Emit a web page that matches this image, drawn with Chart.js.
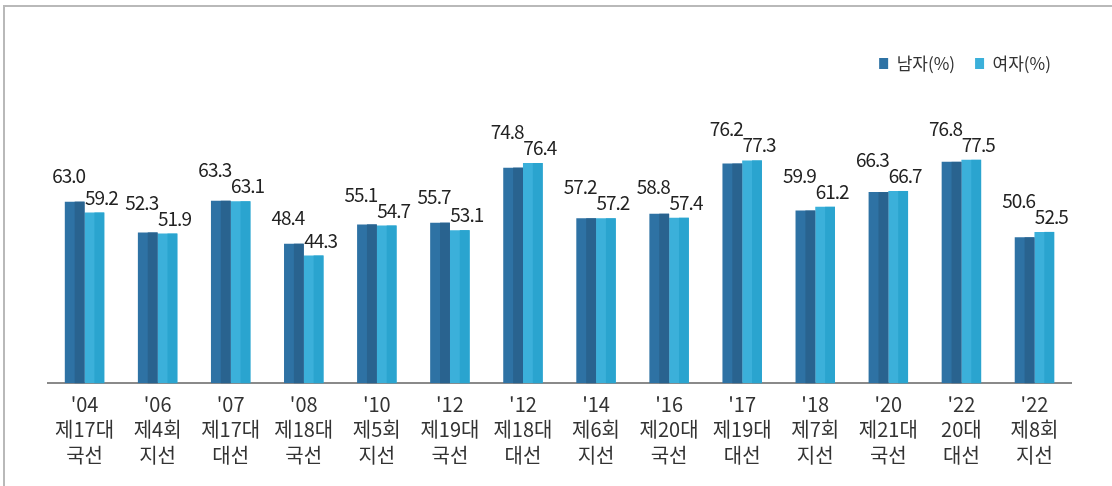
<!DOCTYPE html>
<html>
<head>
<meta charset="utf-8">
<script src="https://cdn.jsdelivr.net/npm/chart.js@4.4.1/dist/chart.umd.min.js"></script>
<style>
  html, body { margin: 0; padding: 0; background: #fff; }
  #wrap { position: relative; width: 1112px; height: 486px; overflow: hidden; }
  #frame { position: absolute; left: 3px; top: 5px; width: 1200px; height: 600px;
           border-top: 2px solid #b9b9b9; border-left: 2px solid #b9b9b9; pointer-events: none; }
  canvas { position: absolute; left: 0; top: 0; }
</style>
</head>
<body>
<div id="wrap">
  <canvas id="c" width="1112" height="486"></canvas>
  <div id="frame"></div>
</div>
<script>
const categories = [
  ["'04", "제17대", "국선"],
  ["'06", "제4회", "지선"],
  ["'07", "제17대", "대선"],
  ["'08", "제18대", "국선"],
  ["'10", "제5회", "지선"],
  ["'12", "제19대", "국선"],
  ["'12", "제18대", "대선"],
  ["'14", "제6회", "지선"],
  ["'16", "제20대", "국선"],
  ["'17", "제19대", "대선"],
  ["'18", "제7회", "지선"],
  ["'20", "제21대", "국선"],
  ["'22", "20대", "대선"],
  ["'22", "제8회", "지선"]
];
const seriesNames = ["남자(%)", "여자(%)"];
const maleValues = [63.0, 52.3, 63.3, 48.4, 55.1, 55.7, 74.8, 57.2, 58.8, 76.2, 59.9, 66.3, 76.8, 50.6];
const femaleValues = [59.2, 51.9, 63.1, 44.3, 54.7, 53.1, 76.4, 57.2, 57.4, 77.3, 61.2, 66.7, 77.5, 52.5];

const FONT = "'Noto Sans CJK KR', 'Noto Sans', sans-serif";
const lightColors = ["#2e72a4", "#3bb0da"];
const darkColors = ["#29638f", "#2aa4cf"];

const legendGap = {
  id: 'legendGap',
  beforeInit(chart) {
    const origFit = chart.legend.fit;
    chart.legend.fit = function () {
      origFit.bind(chart.legend)();
      this.height += 13;
    };
  }
};

const barShade = {
  id: 'barShade',
  afterDatasetsDraw(chart) {
    const ctx = chart.ctx;
    ctx.save();
    chart.data.datasets.forEach((ds, di) => {
      const meta = chart.getDatasetMeta(di);
      meta.data.forEach(el => {
        ctx.fillStyle = darkColors[di];
        ctx.fillRect(el.x, el.y, el.width / 2, el.base - el.y);
      });
    });
    ctx.restore();
  }
};

const valueLabels = {
  id: 'valueLabels',
  afterDatasetsDraw(chart) {
    const ctx = chart.ctx;
    ctx.save();
    ctx.font = "19px " + FONT;
    ctx.fillStyle = "#222";
    ctx.textAlign = "center";
    ctx.textBaseline = "alphabetic";
    try { ctx.letterSpacing = "-1px"; } catch (e) {}
    const m = chart.getDatasetMeta(0).data;
    const f = chart.getDatasetMeta(1).data;
    const textH = 14;
    for (let i = 0; i < m.length; i++) {
      const mv = chart.data.datasets[0].data[i];
      const fv = chart.data.datasets[1].data[i];
      const mEl = m[i], fEl = f[i];
      let mBase = mEl.y - 19;
      const fBase = fEl.y - 8;
      if (fBase - mBase < textH + 2) mBase = fBase - textH - 2;
      ctx.fillText(mv.toFixed(1), mEl.x - 6, mBase);
      ctx.fillText(fv.toFixed(1), fEl.x + 7, fBase);
    }
    ctx.restore();
  }
};

new Chart(document.getElementById('c'), {
  type: 'bar',
  data: {
    labels: categories,
    datasets: [
      { label: seriesNames[0], data: maleValues, backgroundColor: lightColors[0] },
      { label: seriesNames[1], data: femaleValues, backgroundColor: lightColors[1] }
    ]
  },
  options: {
    responsive: false,
    animation: false,
    devicePixelRatio: 1,
    datasets: { bar: { categoryPercentage: 0.54, barPercentage: 1.0 } },
    layout: { padding: { left: 48, right: 41, top: 35, bottom: 10 } },
    plugins: {
      legend: {
        position: 'top',
        align: 'end',
        labels: {
          boxWidth: 9, boxHeight: 11, padding: 20,
          color: '#333',
          font: { family: FONT, size: 17 }
        }
      },
      tooltip: { enabled: false }
    },
    scales: {
      x: {
        grid: { display: false, drawTicks: false },
        border: { display: true, color: '#8a8a8a', width: 2 },
        ticks: {
          color: '#333', padding: 8, maxRotation: 0, autoSkip: false,
          font: { family: FONT, size: 20, lineHeight: 1.28 }
        }
      },
      y: { display: false, min: 0, max: 100 }
    }
  },
  plugins: [legendGap, barShade, valueLabels]
});
</script>
</body>
</html>
